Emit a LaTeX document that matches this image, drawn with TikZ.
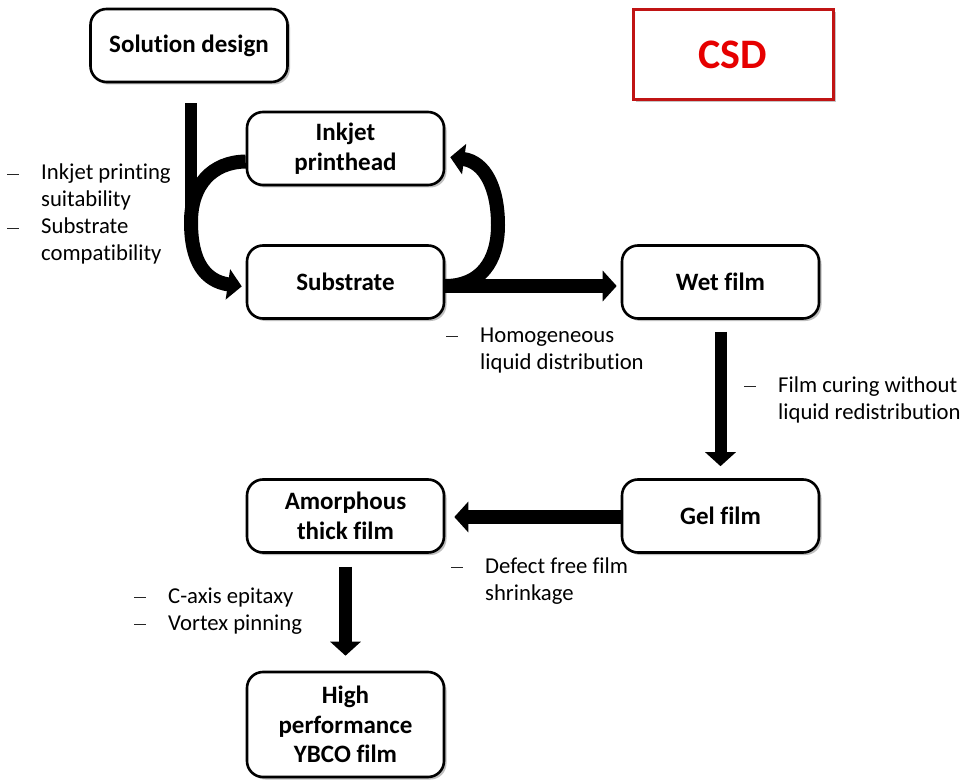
\documentclass[tikz,border=0pt]{standalone}
\usepackage{fontspec}
\setmainfont[Ligatures=NoCommon]{Carlito}
\usetikzlibrary{arrows.meta,shadows}
\tikzset{
  box/.style={draw, line width=2.6pt, rounded corners=16pt, minimum width=197pt,
    minimum height=73pt, inner sep=0pt, align=center, fill=white,
    font=\fontsize{25}{29.5}\selectfont\bfseries,
    drop shadow={shadow xshift=2.5pt, shadow yshift=-2.5pt, fill=black!45, opacity=0.55}},
  bigarrow/.style={line width=14pt, -{Triangle[length=14pt,width=30pt]}},
  bar/.style={line width=12pt},
  lbl/.style={inner sep=0pt, anchor=base west, font=\fontsize{22.7}{27}\selectfont}
}
\definecolor{csdborder}{RGB}{192,20,20}
\definecolor{csdtext}{RGB}{230,0,0}
\newcommand{\dsh}{\leavevmode\textcolor{black!85}{\rule[5pt]{12pt}{1.2pt}}}
\newcommand{\lbltab}[1]{\begin{tabular}[t]{@{}p{34pt}@{}l@{}}#1\end{tabular}}
\begin{document}
\begin{tikzpicture}[x=1pt,y=-1pt]
\fill[white] (0,0) rectangle (967,781);
\useasboundingbox (0,0) rectangle (967,781);

% boxes
\node[box] (sol) at (189,45.5) {Solution design};
\node[box] (ink) at (345.5,148.5) {Inkjet\\printhead};
\node[box] (sub) at (345.5,282) {Substrate};
\node[box] (wet) at (720.5,282) {Wet film};
\node[box] (gel) at (720.5,516) {Gel film};
\node[box] (amo) at (345.5,516) {Amorphous\\thick film};
\node[box, minimum height=105pt] (ybco) at (345.5,724.5) {High\\performance\\YBCO film};
\node[draw=csdborder, line width=3pt, fill=white, minimum width=200pt, minimum height=90pt,
  inner sep=0pt, text=csdtext, font=\fontsize{42}{50}\selectfont\bfseries,
  drop shadow={shadow xshift=2.5pt, shadow yshift=-2.5pt, fill=black!45, opacity=0.5}]
  (csd) at (733,55) {CSD};

% helper coordinates
\coordinate (merge) at (191,222);
\coordinate (loop) at (498,225);

% connectors
\draw[bar] ([xshift=2pt,yshift=-20pt]sol.south) -- (merge);
\draw[bigarrow, shorten >=4pt] ([yshift=-13pt]ink.west) .. controls (212,162) and (191,185) .. (merge)
   .. controls (191,262) and (205,281) .. ([yshift=-5pt]sub.west);
\draw[bigarrow, shorten >=5pt] ([yshift=-4pt]sub.east) .. controls (480,286) and (498,262) .. (loop)
   .. controls (498,188) and (485,162) .. ([yshift=-8pt]ink.east);
\draw[bigarrow, shorten >=4pt] ([yshift=-4pt]sub.east) -- ([yshift=-4pt]wet.west);
\draw[bigarrow, line width=12pt, shorten <=12pt, shorten >=12pt] (wet.south) -- (gel.north);
\draw[bigarrow, shorten >=9pt] ([yshift=-1pt]gel.west) -- ([yshift=-1pt]amo.east);
\draw[bigarrow, line width=13pt, shorten <=13pt, shorten >=15pt] (amo.south) -- (ybco.north);

% labels
\node[lbl] (l1) at (7,180) {\lbltab{\dsh&Inkjet printing\\ &suitability\\ \dsh&Substrate\\ &compatibility}};
\node[lbl] (l2) at (446,342) {\lbltab{\dsh&Homogeneous\\ &liquid distribution}};
\node[lbl] (l3) at (744,392) {\lbltab{\dsh&Film curing without\\ &liquid redistribution}};
\node[lbl] (l4) at (451,573) {\lbltab{\dsh&Defect free film\\ &shrinkage}};
\node[lbl] (l5) at (134,603) {\lbltab{\dsh&C-axis epitaxy\\ \dsh&Vortex pinning}};
\end{tikzpicture}
\end{document}
